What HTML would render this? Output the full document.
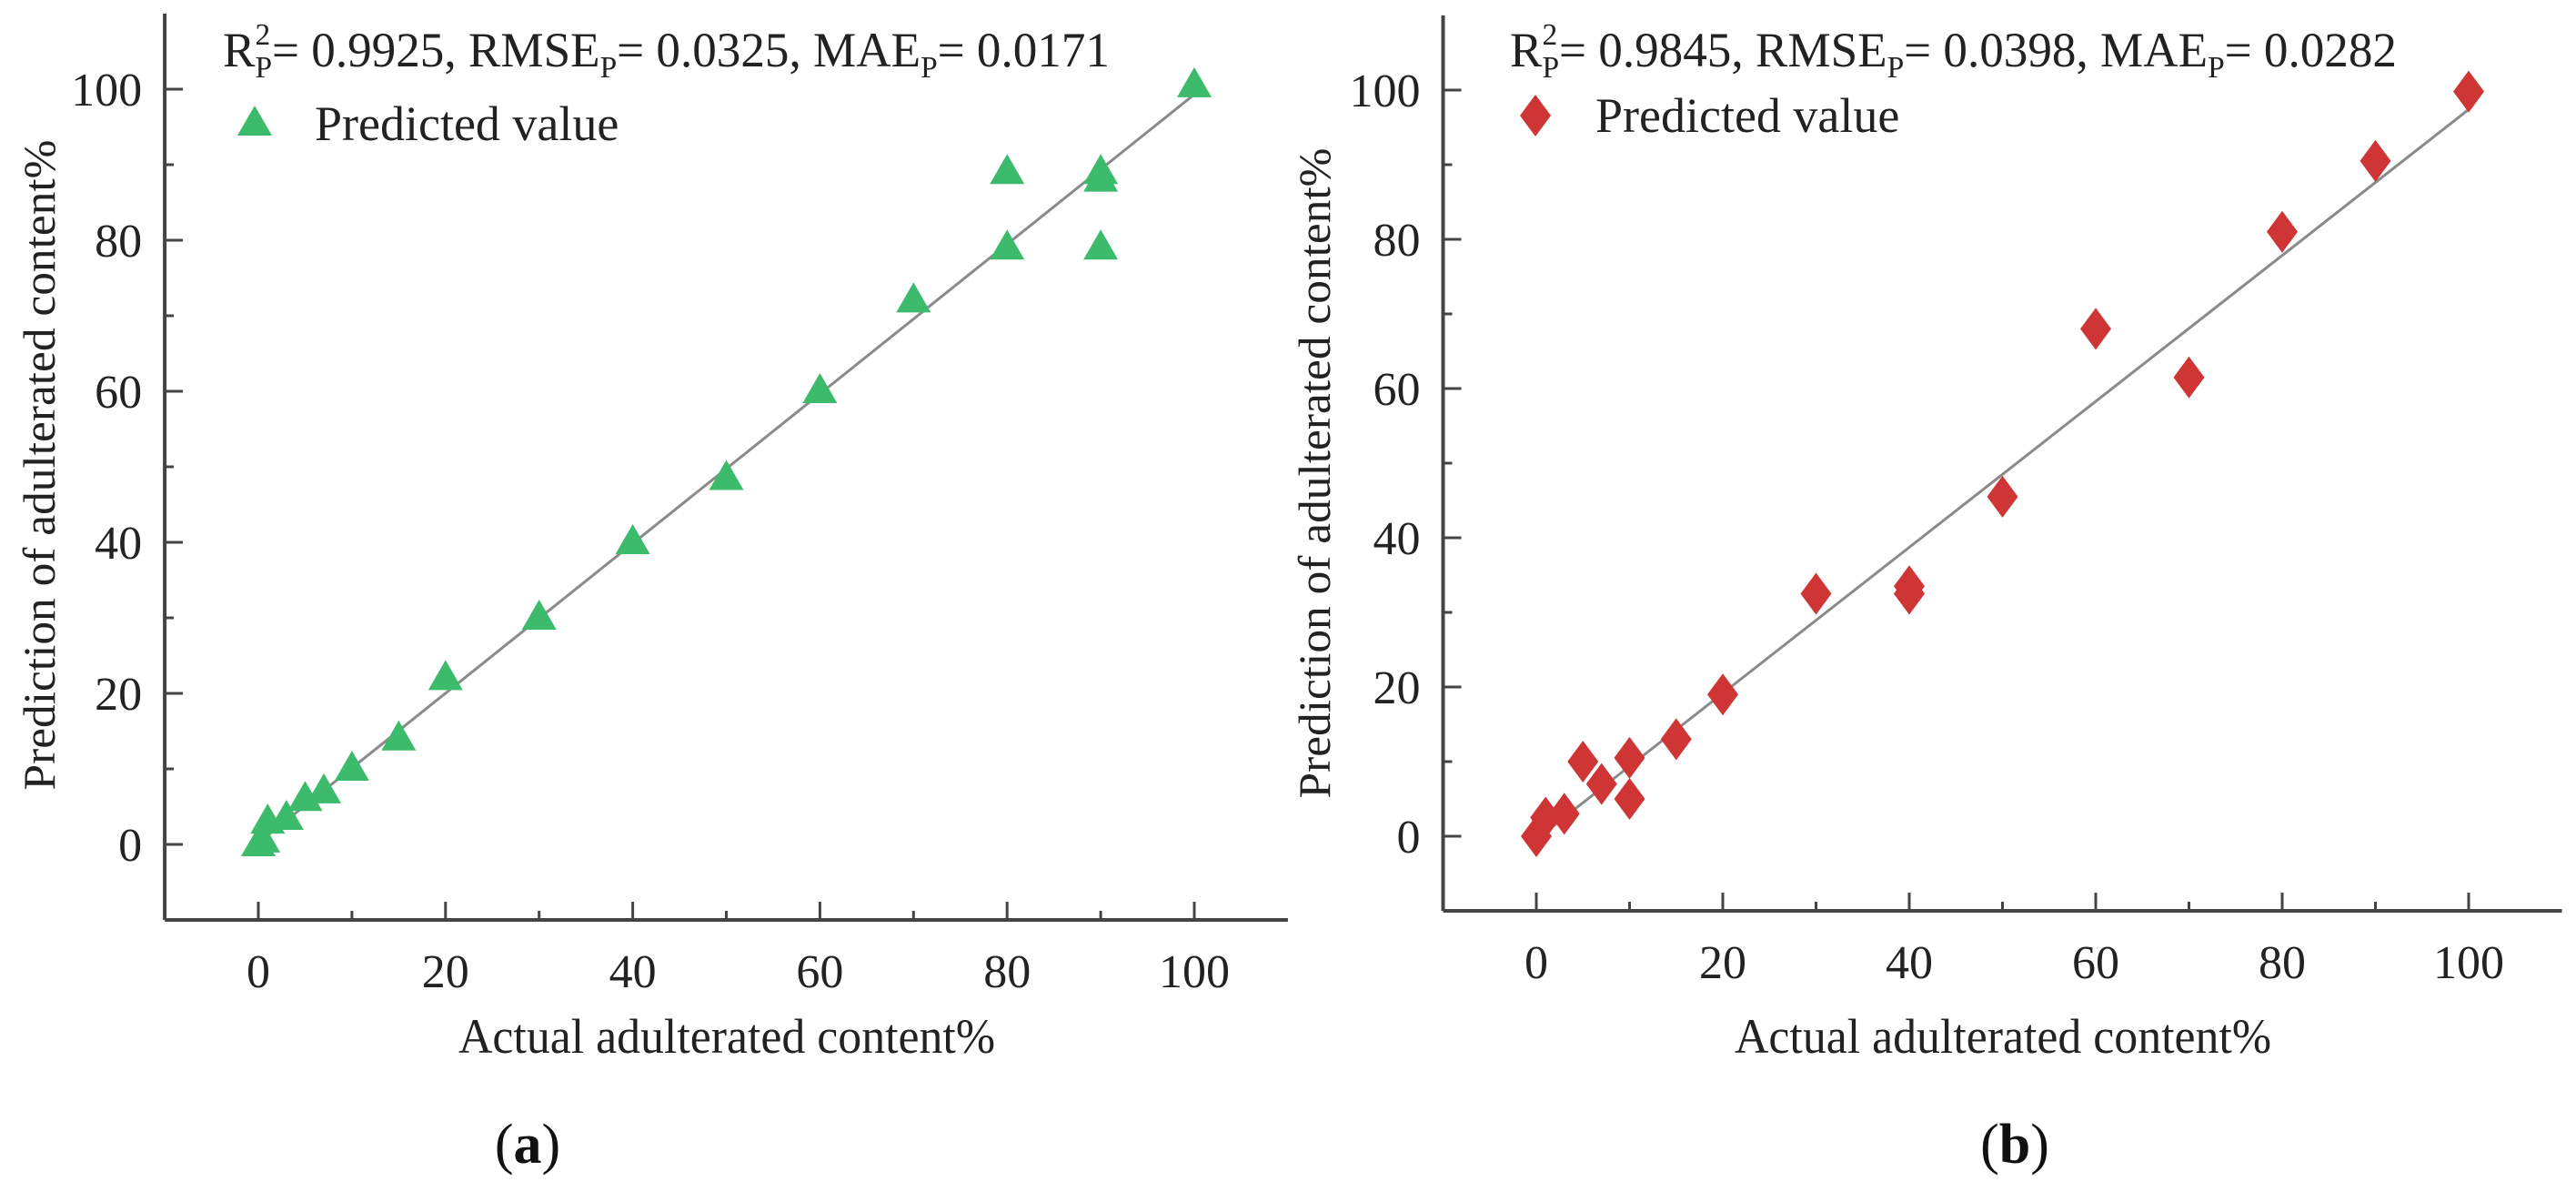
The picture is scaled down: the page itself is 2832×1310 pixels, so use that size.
<!DOCTYPE html>
<html><head><meta charset="utf-8"><style>
html,body{margin:0;padding:0;background:#fff;}
svg{display:block;}
svg text{font-family:"Liberation Serif","Times New Roman","DejaVu Serif",serif;}
</style></head><body>
<svg id="fig" width="2832" height="1310" viewBox="0 0 2832 1310" xmlns="http://www.w3.org/2000/svg" font-family="Liberation Serif, serif"></svg>
<script>
const xTicks = [0, 20, 40, 60, 80, 100];
const yTicks = [0, 20, 40, 60, 80, 100];
const aActual = [0, 0.5, 1, 3, 5, 7, 10, 15, 20, 30, 40, 50, 60, 70, 80, 80, 90, 90, 90, 100];
const aPred   = [0, 0.5, 3, 3.5, 6, 7, 10, 14, 22, 30, 40, 48.5, 60, 72, 89, 79, 89, 88, 79, 100.5];
const bActual = [0, 1, 3, 5, 7, 10, 10, 15, 20, 30, 40, 40, 50, 60, 70, 80, 90, 100];
const bPred   = [0, 2.5, 3, 10, 7, 10.5, 5, 13, 19, 32.5, 33.5, 32.5, 45.5, 68, 61.5, 81, 90.5, 99.8];
const aFit = [0.2, 99.3];
const bFit = [-0.4, 97.4];

const NS = "http://www.w3.org/2000/svg";
const FONT = "'Liberation Serif', 'Times New Roman', serif";
const svg = document.getElementById('fig');
function mk(tag, attrs, parent, text) {
  const e = document.createElementNS(NS, tag);
  for (const k in attrs) e.setAttribute(k, attrs[k]);
  if (tag === 'text') e.setAttribute('font-family', FONT);
  if (text !== undefined) e.textContent = text;
  (parent || svg).appendChild(e);
  return e;
}

function panel(cfg) {
  const g = mk('g', {});
  
  
  const sx = v => cfg.x0 + v * cfg.kx;
  const sy = v => cfg.y0 - v * cfg.ky;
  const xl = sx(-10), xr = sx(110), yb = sy(-10), yt = sy(110);
  const ax = mk('line', {x1: xl, y1: yb, x2: xr, y2: yb, stroke: '#444', 'stroke-width': 4}, g);
  
  
  const ay = mk('line', {x1: xl, y1: yb, x2: xl, y2: yt, stroke: '#444', 'stroke-width': 4}, g);
  
  
  for (let v = 0; v <= 100; v += 10) {
    const major = v % 20 === 0;
    const len = major ? 20 : 10;
    const t1 = mk('line', {x1: sx(v), y1: yb, x2: sx(v), y2: yb - len, stroke: '#444', 'stroke-width': 3}, g);
    
    
    const t2 = mk('line', {x1: xl, y1: sy(v), x2: xl + len, y2: sy(v), stroke: '#444', 'stroke-width': 3}, g);
    
    
  }
  xTicks.forEach(v => {
    const t = mk('text', {x: sx(v), y: yb + 74, 'font-size': 52, 'text-anchor': 'middle', fill: '#222'}, g, String(v));
    
    
  });
  yTicks.forEach(v => {
    const t = mk('text', {x: xl - 25, y: sy(v) + 18, 'font-size': 52, 'text-anchor': 'end', fill: '#222'}, g, String(v));
    
    
  });
  const xt = mk('text', {x: cfg.xTitleX, y: 1157, 'font-size': 54, 'text-anchor': 'middle', fill: '#222', textLength: 590, lengthAdjust: 'spacingAndGlyphs'}, g, 'Actual adulterated content%');
  
  
  const yt2 = mk('text', {x: 0, y: 0, 'font-size': 50, 'text-anchor': 'middle', fill: '#222', textLength: 715, lengthAdjust: 'spacingAndGlyphs', transform: `translate(${cfg.yTitleX},${cfg.yTitleY}) rotate(-90)`}, g, 'Prediction of adulterated content%');
  
  
  const fl = mk('line', {x1: sx(0), y1: sy(cfg.fit[0]), x2: sx(100), y2: sy(cfg.fit[1]), stroke: '#8a8a8a', 'stroke-width': 3}, g);
  
  
  const marker = (cx, cy, parent) => {
    if (cfg.shape === 'tri') {
      return mk('polygon', {points: `${cx},${cy-20} ${cx-19},${cy+13} ${cx+19},${cy+13}`, fill: cfg.color}, parent);
    }
    return mk('polygon', {points: `${cx},${cy-23} ${cx+17},${cy} ${cx},${cy+23} ${cx-17},${cy}`, fill: cfg.color}, parent);
  };
  cfg.xs.forEach((xv, i) => {
    const p = marker(sx(xv), sy(cfg.ys[i]), g);
    
    
  });
  const st = mk('text', {x: cfg.statX, y: 73, 'font-size': 54, fill: '#222', textLength: 975, lengthAdjust: 'spacingAndGlyphs'}, g);
  
  
  const parts = cfg.stats;
  mk('tspan', {}, st, 'R');
  mk('tspan', {'font-size': 34, dy: -24}, st, '2');
  mk('tspan', {'font-size': 34, dx: -17, dy: 36}, st, 'P');
  mk('tspan', {dy: -12}, st, '= ' + parts[0] + ', RMSE');
  mk('tspan', {'font-size': 34, dy: 12}, st, 'P');
  mk('tspan', {dy: -12}, st, '= ' + parts[1] + ', MAE');
  mk('tspan', {'font-size': 34, dy: 12}, st, 'P');
  mk('tspan', {dy: -12}, st, '= ' + parts[2]);
  const lm = marker(cfg.legX, cfg.legY, g);
  
  
  const lt = mk('text', {x: cfg.legX + 66, y: cfg.legY + 18, 'font-size': 54, fill: '#222'}, g, 'Predicted value');
  
  
  const pl = mk('text', {x: cfg.labelX, y: 1278, 'font-size': 62, 'text-anchor': 'middle', fill: '#111'}, g);
  
  
  mk('tspan', {}, pl, '(');
  mk('tspan', {'font-weight': 'bold'}, pl, cfg.letter);
  mk('tspan', {}, pl, ')');
}

panel({name: 'panel-a', x0: 284, kx: 10.29, y0: 928, ky: 8.3, xs: aActual, ys: aPred, fit: aFit,
  shape: 'tri', color: '#3dbb6c', xTitleX: 799, yTitleX: 60, yTitleY: 511,
  statX: 245, stats: ['0.9925', '0.0325', '0.0171'], legX: 280, legY: 136, labelX: 580, letter: 'a'});
panel({name: 'panel-b', x0: 1689, kx: 10.25, y0: 919, ky: 8.2, xs: bActual, ys: bPred, fit: bFit,
  shape: 'dia', color: '#d03535', xTitleX: 2202, yTitleX: 1462, yTitleY: 520,
  statX: 1660, stats: ['0.9845', '0.0398', '0.0282'], legX: 1688, legY: 127, labelX: 2215, letter: 'b'});
</script>
</body></html>
